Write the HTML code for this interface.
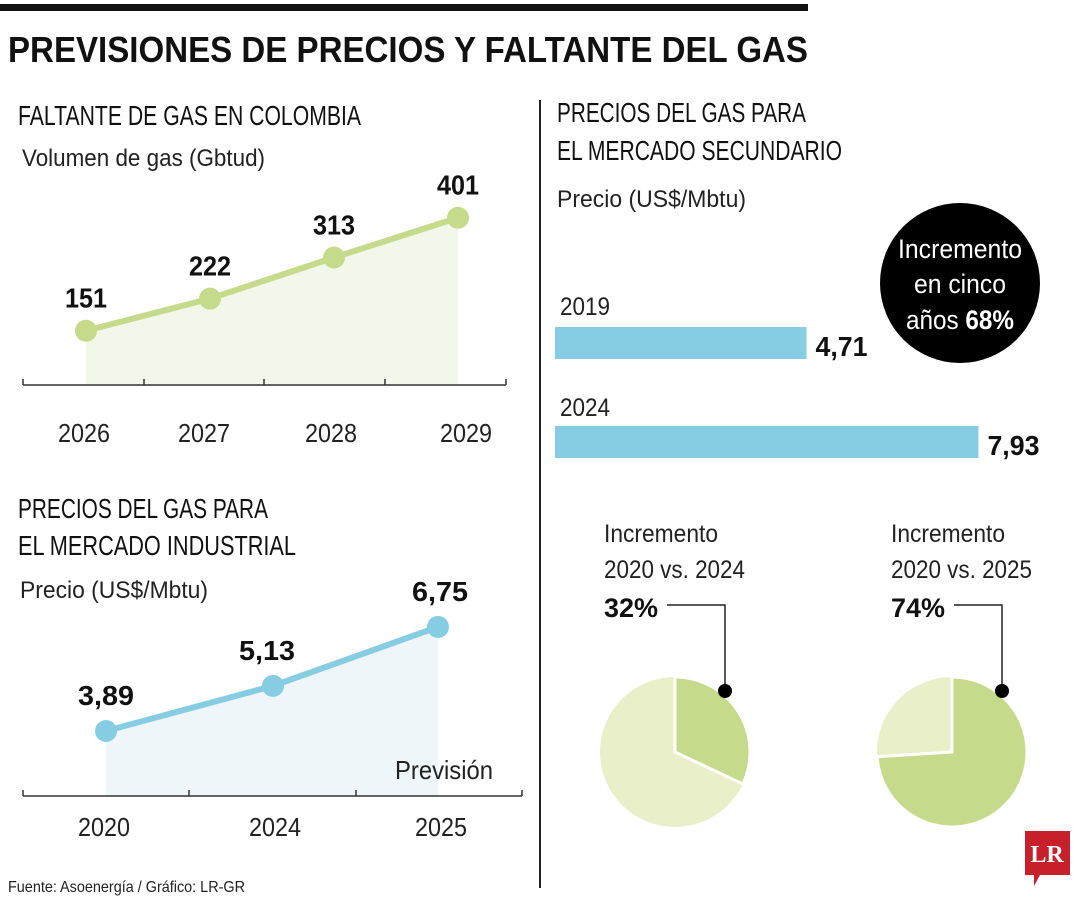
<!DOCTYPE html>
<html><head><meta charset="utf-8"><style>
html,body{margin:0;padding:0;background:#fff}
svg{display:block}
text{font-family:"Liberation Sans",sans-serif}
.b{font-weight:bold}
</style></head><body>
<svg id="c" width="1080" height="900" viewBox="0 0 1080 900">
<rect x="0" y="4" width="808" height="7" fill="#111"/>
<text x="8" y="62" font-size="36" class="b" textLength="800" lengthAdjust="spacingAndGlyphs" fill="#111">PREVISIONES DE PRECIOS Y FALTANTE DEL GAS</text>
<line x1="540" y1="100" x2="540" y2="888" stroke="#222" stroke-width="2"/>

<text x="18" y="125" font-size="28" textLength="343" lengthAdjust="spacingAndGlyphs" fill="#111">FALTANTE DE GAS EN COLOMBIA</text>
<text x="22" y="166" font-size="24" textLength="243" lengthAdjust="spacingAndGlyphs" fill="#222">Volumen de gas (Gbtud)</text>
<g id="g1"></g>

<text x="18" y="518" font-size="28" textLength="250" lengthAdjust="spacingAndGlyphs" fill="#111">PRECIOS DEL GAS PARA</text>
<text x="18" y="555" font-size="28" textLength="278" lengthAdjust="spacingAndGlyphs" fill="#111">EL MERCADO INDUSTRIAL</text>
<text x="20" y="598" font-size="24" textLength="188" lengthAdjust="spacingAndGlyphs" fill="#222">Precio (US$/Mbtu)</text>
<g id="g2"></g>
<text x="444" y="779" font-size="26" text-anchor="middle" textLength="98" lengthAdjust="spacingAndGlyphs" fill="#222">Previsión</text>

<text x="557" y="122" font-size="28" textLength="249" lengthAdjust="spacingAndGlyphs" fill="#111">PRECIOS DEL GAS PARA</text>
<text x="557" y="160" font-size="28" textLength="285" lengthAdjust="spacingAndGlyphs" fill="#111">EL MERCADO SECUNDARIO</text>
<text x="557" y="207" font-size="24" textLength="189" lengthAdjust="spacingAndGlyphs" fill="#222">Precio (US$/Mbtu)</text>
<g id="g3"></g>

<circle cx="960" cy="283" r="80" fill="#000"/>
<text x="960" y="258" font-size="27" fill="#fff" text-anchor="middle" textLength="124" lengthAdjust="spacingAndGlyphs">Incremento</text>
<text x="960" y="293" font-size="27" fill="#fff" text-anchor="middle" textLength="92" lengthAdjust="spacingAndGlyphs">en cinco</text>
<text x="960" y="329" font-size="27" fill="#fff" text-anchor="middle" textLength="108" lengthAdjust="spacingAndGlyphs">años <tspan class="b">68%</tspan></text>

<g id="g4"></g>

<text x="8" y="892" font-size="16" textLength="237" lengthAdjust="spacingAndGlyphs" fill="#222">Fuente: Asoenergía / Gráfico: LR-GR</text>
<g>
<path d="M1025 831 H1070 V875 H1040 L1034 886 V875 H1025 Z" fill="#c8202a"/>
<text x="1047" y="862" font-size="24" fill="#fff" text-anchor="middle" font-family="Liberation Serif" font-weight="bold" style="font-family:'Liberation Serif',serif">LR</text>
</g>
</svg>
<script>
const NS="http://www.w3.org/2000/svg";
const shortYears=["2026","2027","2028","2029"];
const shortVals=[151,222,313,401];
const shortLabels=["151","222","313","401"];
const indYears=["2020","2024","2025"];
const indVals=[3.89,5.13,6.75];
const indLabels=["3,89","5,13","6,75"];
const secYears=["2019","2024"];
const secVals=[4.71,7.93];
const secLabels=["4,71","7,93"];
const pieTitles=["2020 vs. 2024","2020 vs. 2025"];
const pieVals=[32,74];
const pieLabels=["32%","74%"];

function el(t,a,p,txt){const e=document.createElementNS(NS,t);for(const k in a)e.setAttribute(k,a[k]);if(txt!==undefined)e.textContent=txt;p.appendChild(e);return e;}

// chart 1
(function(){
const g=document.getElementById('g1');
const x=i=>86+i*124;
const y=v=>399-v*0.452;
const axisY=385;
let d="M"+x(0)+" "+axisY;
shortVals.forEach((v,i)=>d+=" L"+x(i)+" "+y(v));
d+=" L"+x(shortVals.length-1)+" "+axisY+" Z";
const a=el('path',{d:d,fill:'#f3f7ea'},g);


const ax=el('path',{d:"M23 "+axisY+" H506 M23 "+axisY+" v-6 M144 "+axisY+" v-6 M264 "+axisY+" v-6 M385 "+axisY+" v-6 M506 "+axisY+" v-6",stroke:'#333','stroke-width':1.5,fill:'none'},g);


const ln=el('polyline',{points:shortVals.map((v,i)=>x(i)+","+y(v)).join(" "),fill:'none',stroke:'#c5da8a','stroke-width':6},g);


shortVals.forEach((v,i)=>{
 const c=el('circle',{cx:x(i),cy:y(v),r:11,fill:'#c5da8a'},g);
 
 
 const t=el('text',{x:x(i),y:y(v)-23,'font-size':28,'font-weight':'bold','text-anchor':'middle',fill:'#111',textLength:42,lengthAdjust:'spacingAndGlyphs'},g,shortLabels[i]);
 
 
 const yl=el('text',{x:[84,204,331,466][i],y:442,'font-size':26,'text-anchor':'middle',fill:'#222',textLength:52,lengthAdjust:'spacingAndGlyphs'},g,shortYears[i]);
 
 
});
})();

// chart 2
(function(){
const g=document.getElementById('g2');
const xs=[106,273,438];
const x=i=>xs[i];
const y=v=>872.6-v*36.4;
const axisY=796;
let d="M"+x(0)+" "+axisY;
indVals.forEach((v,i)=>d+=" L"+x(i)+" "+y(v));
d+=" L"+x(indVals.length-1)+" "+axisY+" Z";
const a=el('path',{d:d,fill:'#eef6f9'},g);


const ax=el('path',{d:"M23 "+axisY+" H522 M23 "+axisY+" v-6 M189 "+axisY+" v-6 M356 "+axisY+" v-6 M522 "+axisY+" v-6",stroke:'#333','stroke-width':1.5,fill:'none'},g);


const ln=el('polyline',{points:indVals.map((v,i)=>x(i)+","+y(v)).join(" "),fill:'none',stroke:'#86cde3','stroke-width':6},g);


const lx=[106,267,440];
indVals.forEach((v,i)=>{
 const c=el('circle',{cx:x(i),cy:y(v),r:11,fill:'#86cde3'},g);
 
 
 const t=el('text',{x:lx[i],y:y(v)-26,'font-size':28,'font-weight':'bold','text-anchor':'middle',fill:'#111',textLength:56,lengthAdjust:'spacingAndGlyphs'},g,indLabels[i]);
 
 
 const yl=el('text',{x:[104,275,441][i],y:836,'font-size':26,'text-anchor':'middle',fill:'#222',textLength:52,lengthAdjust:'spacingAndGlyphs'},g,indYears[i]);
 
 
});
})();

// bars
(function(){
const g=document.getElementById('g3');
const w=v=>v*53.4;
const tops=[327,426];
const lys=[315,416];
secVals.forEach((v,i)=>{
 const r=el('rect',{x:555,y:tops[i],width:w(v),height:32,fill:'#86cde3'},g);
 
 
 const l=el('text',{x:560,y:lys[i],'font-size':25,fill:'#222',textLength:50,lengthAdjust:'spacingAndGlyphs'},g,secYears[i]);
 
 
 const t=el('text',{x:555+w(v)+9,y:tops[i]+29,'font-size':28,'font-weight':'bold',fill:'#111',textLength:52,lengthAdjust:'spacingAndGlyphs'},g,secLabels[i]);
 
 
});
})();

// pies
(function(){
const g=document.getElementById('g4');
const cxs=[675,952], cy=752, r=75, tx=[604,891];
pieVals.forEach((v,i)=>{
 const cx=cxs[i];
 const bg=el('circle',{cx:cx,cy:cy,r:r,fill:'#e9f0c9'},g);
 
 
 const ang=v/100*2*Math.PI;
 const ex=cx+r*Math.sin(ang), ey=cy-r*Math.cos(ang);
 const s=el('path',{d:`M${cx} ${cy} L${cx} ${cy-r} A${r} ${r} 0 ${v>50?1:0} 1 ${ex} ${ey} Z`,fill:'#c5da8a',stroke:'#fff','stroke-width':3,'stroke-linejoin':'miter'},g);
 
 
 const t1=el('text',{x:tx[i],y:542,'font-size':25,fill:'#222',textLength:114,lengthAdjust:'spacingAndGlyphs'},g,'Incremento');
 
 
 const t2=el('text',{x:tx[i],y:578,'font-size':25,fill:'#222',textLength:141,lengthAdjust:'spacingAndGlyphs'},g,pieTitles[i]);
 
 
 const t3=el('text',{x:tx[i],y:617,'font-size':27,'font-weight':'bold',fill:'#111',textLength:54,lengthAdjust:'spacingAndGlyphs'},g,pieLabels[i]);
 
 
 const lx=cx+50;
 const ld=el('path',{d:`M${tx[i]+63} 605 H${lx} V691`,stroke:'#222','stroke-width':1.5,fill:'none'},g);
 
 
 const dt=el('circle',{cx:lx,cy:691,r:7,fill:'#000'},g);
 
 
});
})();
</script>
</body></html>
